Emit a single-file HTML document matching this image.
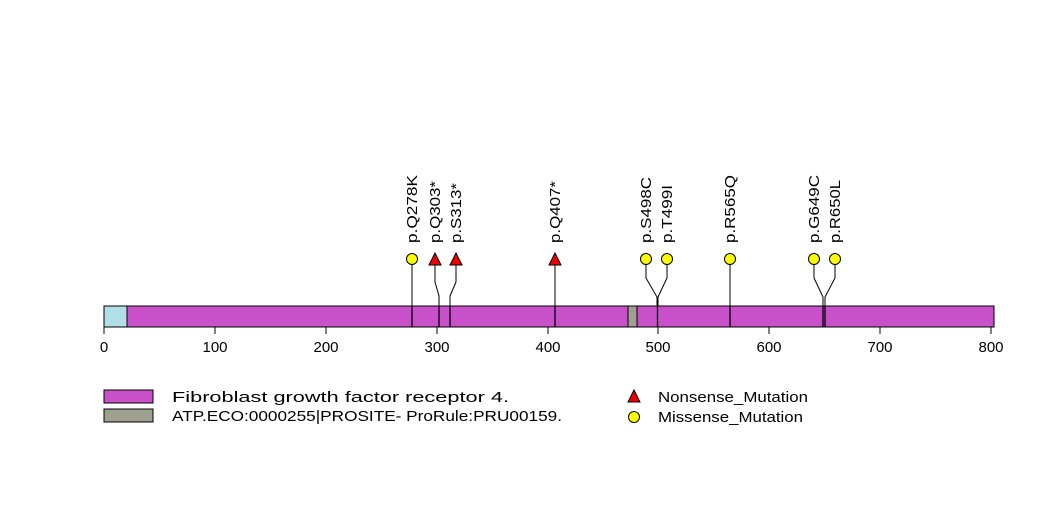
<!DOCTYPE html>
<html><head><meta charset="utf-8"><style>
html,body{margin:0;padding:0;background:#fff;}
svg{display:block;}
text{font-family:"Liberation Sans",sans-serif;fill:#000;}
</style></head><body>
<svg width="1047" height="524" viewBox="0 0 1047 524" xmlns="http://www.w3.org/2000/svg">
<rect x="0" y="0" width="1047" height="524" fill="#fff"/>
<g stroke="#000" stroke-width="1" fill="none">
<polyline points="412,327 412,259"/>
<polyline points="439,327 439,296 435,282 435,259"/>
<polyline points="450,327 450,296 456,282 456,259"/>
<polyline points="555,327 555,259"/>
<polyline points="657,327 657,297 646,278 646,259"/>
<polyline points="658,327 658,297 667,278 667,259"/>
<polyline points="730,327 730,259"/>
<polyline points="823,327 823,297 814,278 814,259"/>
<polyline points="825,327 825,297 835,278 835,259"/>
</g>
<rect x="104" y="306" width="890" height="21" fill="#c850c8" stroke="#000" stroke-width="1"/>
<rect x="104" y="306" width="23" height="21" fill="#b0e0e6" stroke="#000" stroke-width="1"/>
<rect x="628" y="306" width="9" height="21" fill="#a0a090" stroke="#000" stroke-width="1"/>
<g stroke="#000" stroke-width="1.3">
<line x1="412" y1="306" x2="412" y2="327"/>
<line x1="439" y1="306" x2="439" y2="327"/>
<line x1="450" y1="306" x2="450" y2="327"/>
<line x1="555" y1="306" x2="555" y2="327"/>
<line x1="657.5" y1="306" x2="657.5" y2="327"/>
<line x1="730" y1="306" x2="730" y2="327"/>
<line x1="823" y1="306" x2="823" y2="327"/>
<line x1="825" y1="306" x2="825" y2="327"/>
</g>
<g stroke="#000" stroke-width="1">
<line x1="104" y1="327" x2="992" y2="327"/>
<line x1="104" y1="327" x2="104" y2="334"/>
<line x1="215" y1="327" x2="215" y2="334"/>
<line x1="326" y1="327" x2="326" y2="334"/>
<line x1="437" y1="327" x2="437" y2="334"/>
<line x1="548" y1="327" x2="548" y2="334"/>
<line x1="658" y1="327" x2="658" y2="334"/>
<line x1="769" y1="327" x2="769" y2="334"/>
<line x1="880" y1="327" x2="880" y2="334"/>
<line x1="991" y1="327" x2="991" y2="334"/>
</g>
<g font-size="15" text-anchor="middle">
<text x="104" y="352">0</text><text x="215" y="352">100</text><text x="326" y="352">200</text>
<text x="437" y="352">300</text><text x="548" y="352">400</text><text x="658" y="352">500</text>
<text x="769" y="352">600</text><text x="880" y="352">700</text><text x="991" y="352">800</text>
</g>
<g stroke="#000" stroke-width="1">
<circle cx="412" cy="259" r="5.5" fill="#ffff00"/>
<polygon points="435,253 441,265 429,265" fill="#ee0000"/>
<polygon points="456,253 462,265 450,265" fill="#ee0000"/>
<polygon points="555,253 561,265 549,265" fill="#ee0000"/>
<circle cx="646" cy="259" r="5.5" fill="#ffff00"/>
<circle cx="667" cy="259" r="5.5" fill="#ffff00"/>
<circle cx="730" cy="259" r="5.5" fill="#ffff00"/>
<circle cx="814" cy="259" r="5.5" fill="#ffff00"/>
<circle cx="835" cy="259" r="5.5" fill="#ffff00"/>
</g>
<g font-size="15" lengthAdjust="spacingAndGlyphs">
<text transform="translate(417,243) rotate(-90)" textLength="68" lengthAdjust="spacingAndGlyphs">p.Q278K</text>
<text transform="translate(440,243) rotate(-90)" textLength="62" lengthAdjust="spacingAndGlyphs">p.Q303*</text>
<text transform="translate(461,243) rotate(-90)" textLength="60" lengthAdjust="spacingAndGlyphs">p.S313*</text>
<text transform="translate(560,243) rotate(-90)" textLength="62" lengthAdjust="spacingAndGlyphs">p.Q407*</text>
<text transform="translate(651,243) rotate(-90)" textLength="66" lengthAdjust="spacingAndGlyphs">p.S498C</text>
<text transform="translate(672,243) rotate(-90)" textLength="58" lengthAdjust="spacingAndGlyphs">p.T499I</text>
<text transform="translate(735,243) rotate(-90)" textLength="68" lengthAdjust="spacingAndGlyphs">p.R565Q</text>
<text transform="translate(819,243) rotate(-90)" textLength="68" lengthAdjust="spacingAndGlyphs">p.G649C</text>
<text transform="translate(840,243) rotate(-90)" textLength="63" lengthAdjust="spacingAndGlyphs">p.R650L</text>
</g>
<rect x="104" y="390" width="49" height="13" fill="#c850c8" stroke="#000"/>
<rect x="104" y="409" width="49" height="13" fill="#a0a090" stroke="#000"/>
<g font-size="15">
<text x="172" y="402" textLength="337" lengthAdjust="spacingAndGlyphs">Fibroblast growth factor receptor 4.</text>
<text x="172" y="421" textLength="390" lengthAdjust="spacingAndGlyphs">ATP.ECO:0000255|PROSITE- ProRule:PRU00159.</text>
<text x="658" y="402" textLength="150" lengthAdjust="spacingAndGlyphs">Nonsense_Mutation</text>
<text x="658" y="422" textLength="145" lengthAdjust="spacingAndGlyphs">Missense_Mutation</text>
</g>
<polygon points="634,390 640,402 628,402" fill="#ee0000" stroke="#000"/>
<circle cx="634" cy="417" r="5.5" fill="#ffff00" stroke="#000"/>
</svg>
</body></html>
